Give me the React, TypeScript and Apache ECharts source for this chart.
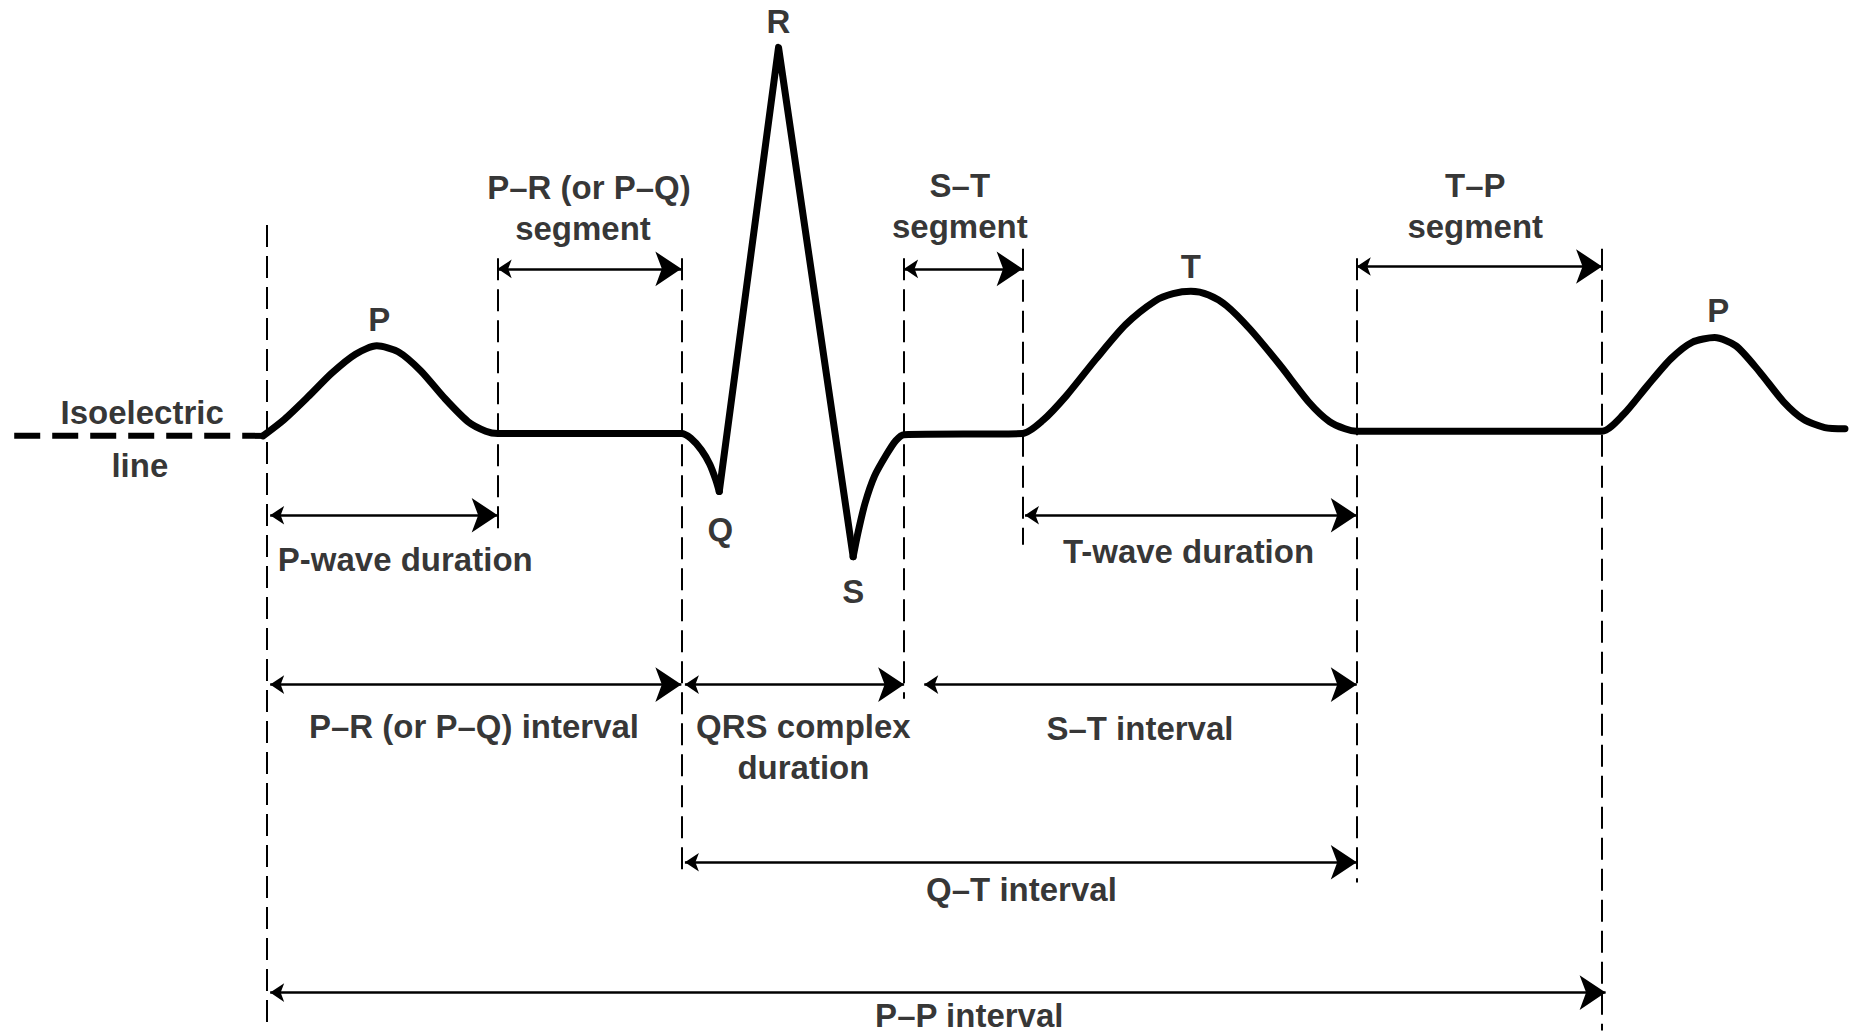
import { useEffect, useRef } from "react";
import * as echarts from "echarts";

// Coordinates (1568 x 873 reading frame), x = time, y = height (downwards)
const isoelectricLine: [number, number][] = [[12, 368], [222, 368]];

// P wave, P-R segment and Q dip (smooth)
const ecgPQ: [number, number][] = [
  [222, 368], [240, 354], [260, 335], [280, 315], [300, 299], [318, 292], [336, 297],
  [355, 313], [375, 336], [395, 356], [410, 364], [420, 366],
  [575, 366], [583, 370], [592, 380], [599, 392], [604, 405], [607, 415],
];
// QRS spike (straight)
const ecgQRS: [number, number][] = [[607, 415], [657, 40], [720, 470]];
// S recovery, S-T segment, T wave, T-P segment, next P wave (smooth)
const ecgST: [number, number][] = [
  [720, 470], [724, 450], [730, 425], [738, 402], [748, 384], [756, 372], [763, 367],
  [863, 366], [880, 355], [900, 334], [925, 303], [950, 274], [975, 254], [990, 248], [1005, 246],
  [1020, 249], [1035, 258], [1055, 278], [1080, 308], [1105, 340], [1122, 356], [1135, 362], [1145, 364],
  [1352, 364], [1370, 350], [1390, 326], [1410, 303], [1428, 289], [1447, 285], [1465, 292],
  [1485, 314], [1505, 339], [1522, 354], [1540, 361], [1557, 362],
];

const guideX = [225, 420, 575, 763, 863, 1145, 1352];
const guideTop = [190, 218, 218, 218, 210, 218, 210];
const guideBottom = [870, 452, 740, 590, 460, 745, 870];

const arrowNames = [
  "P-R segment", "S-T segment", "T-P segment", "P-wave duration", "T-wave duration",
  "P-R interval", "QRS duration", "S-T interval", "Q-T interval", "P-P interval",
];
const arrowStart = [420, 763, 1145, 228, 865, 228, 578, 780, 578, 228];
const arrowEnd = [575, 863, 1352, 420, 1145, 575, 763, 1145, 1145, 1355];
const arrowLevel = [227, 227, 225, 435, 435, 578, 578, 578, 728, 838];

const labelTexts = [
  "R", "P–R (or P–Q)", "segment", "S–T", "segment", "T–P", "segment", "T", "P", "P",
  "Isoelectric", "line", "Q", "S", "P-wave duration", "T-wave duration",
  "P–R (or P–Q) interval", "QRS complex", "duration", "S–T interval", "Q–T interval", "P–P interval",
];
const labelX = [
  657, 497, 492, 810, 810, 1245, 1245, 1005, 320, 1450,
  120, 118, 608, 720, 342, 1003,
  400, 678, 678, 962, 862, 818,
];
const labelY = [
  18, 158, 193, 157, 191, 157, 191, 225, 270, 262,
  348, 393, 447, 499, 472, 466,
  613, 613, 648, 615, 751, 857,
];

const FONT = "'Liberation Sans', Arial, Helvetica, sans-serif";

export default function App() {
  const ref = useRef<HTMLDivElement>(null);
  useEffect(() => {
    const chart = echarts.init(ref.current!, null, { renderer: "svg" });
    const guideData = guideX.map((x, i) => ({
      coords: [[x, guideTop[i]], [x, guideBottom[i]]],
    }));
    const arrowData = arrowNames.map((n, i) => ({
      name: n,
      coords: [[arrowStart[i], arrowLevel[i]], [arrowEnd[i], arrowLevel[i]]],
    }));
    const labelData = labelTexts.map((t, i) => ({ name: t, value: [labelX[i], labelY[i]] }));
    const traceStyle = { color: "#000", width: 7, join: "round", cap: "round" };
    chart.setOption({
      animation: false,
      backgroundColor: "#ffffff",
      grid: { left: 0, right: 0, top: 0, bottom: 0 },
      xAxis: { type: "value", min: 0, max: 1568, show: false },
      yAxis: { type: "value", min: 0, max: 873, inverse: true, show: false },
      series: [
        {
          type: "lines",
          coordinateSystem: "cartesian2d",
          data: guideData,
          symbol: ["none", "none"],
          lineStyle: { color: "#000", width: 2, type: [22, 9], opacity: 1 },
          silent: true,
        },
        {
          type: "lines",
          coordinateSystem: "cartesian2d",
          data: arrowData,
          symbol: ["arrow", "arrow"],
          symbolSize: [14, 26],
          lineStyle: { color: "#000", width: 2.6, opacity: 1 },
          itemStyle: { color: "#000" },
          silent: true,
        },
        {
          type: "line",
          data: isoelectricLine,
          showSymbol: false,
          lineStyle: { color: "#000", width: 6, type: [26, 12] },
          silent: true,
        },
        {
          type: "line",
          data: ecgPQ,
          showSymbol: false,
          smooth: 0.25,
          lineStyle: traceStyle,
          silent: true,
        },
        {
          type: "line",
          data: ecgQRS,
          showSymbol: false,
          smooth: false,
          lineStyle: traceStyle,
          silent: true,
        },
        {
          type: "line",
          data: ecgST,
          showSymbol: false,
          smooth: 0.25,
          lineStyle: traceStyle,
          silent: true,
        },
        {
          type: "scatter",
          data: labelData,
          symbolSize: 0,
          silent: true,
          label: {
            show: true,
            position: "inside",
            formatter: "{b}",
            color: "#000",
            fontFamily: FONT,
            fontWeight: "bold",
            fontSize: 33,
            align: "center",
            verticalAlign: "middle",
          },
        },
      ],
    });
    return () => chart.dispose();
  }, []);
  return (
    <div
      ref={ref}
      style={{ position: "fixed", left: 0, top: 0, width: 1858, height: 1034, background: "#fff" }}
    />
  );
}
